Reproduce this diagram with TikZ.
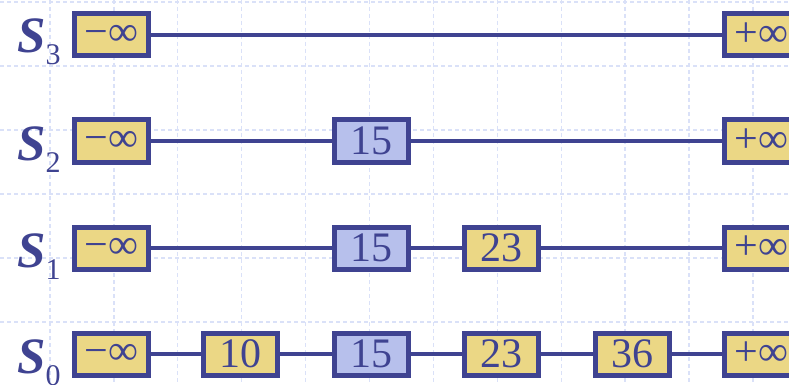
\documentclass[tikz,border=0pt]{standalone}
\usepackage{fontspec}
\setmainfont{Liberation Serif}
\definecolor{navy}{HTML}{3F4391}
\definecolor{ybox}{HTML}{EBD785}
\definecolor{bbox}{HTML}{B7C0EC}
\definecolor{gridc}{HTML}{DAE1F8}
\tikzset{
  keybox/.style={draw=navy, line width=5pt, minimum width=74pt, minimum height=42pt, inner sep=0pt, text=navy, font=\fontsize{42}{42}\selectfont},
  ykey/.style={keybox, fill=ybox},
  bkey/.style={keybox, fill=bbox},
  link/.style={draw=navy, line width=4.5pt},
  gridline/.style={draw=gridc, line width=1.3pt, dash pattern=on 4pt off 3pt},
  lvl/.style={anchor=base west, inner sep=0pt, text=navy}
}
\newcommand{\lvlname}[1]{{\fontsize{51}{51}\selectfont\bfseries\itshape S}\raisebox{-12pt}{\fontsize{30}{30}\selectfont #1}}
\begin{document}
\begin{tikzpicture}[x=1pt,y=-1pt]
\useasboundingbox (0,0) rectangle (789,385);
\clip (0,0) rectangle (789,385);
\fill[white] (0,0) rectangle (789,385);
% grid
\foreach \gx in {0,...,11} \draw[gridline] ({50+63.9*\gx},0) -- ({50+63.9*\gx},385);
\foreach \gy in {0,...,5} \draw[gridline] (0,{2+64*\gy}) -- (789,{2+64*\gy});
% level labels
\node[lvl] (L3) at (17,53) {\lvlname{3}};
\node[lvl] (L2) at (17,160) {\lvlname{2}};
\node[lvl] (L1) at (17,267) {\lvlname{1}};
\node[lvl] (L0) at (17,373) {\lvlname{0}};
% S3
\node[ykey] (a3) at (111.5,35) {−∞};
\node[ykey] (f3) at (761.5,35) {+∞};
% S2
\node[ykey] (a2) at (111.5,141) {−∞};
\node[bkey] (c2) at (371.5,141) {15};
\node[ykey] (f2) at (761.5,141) {+∞};
% S1
\node[ykey] (a1) at (111.5,248) {−∞};
\node[bkey] (c1) at (371.5,248) {15};
\node[ykey] (d1) at (501.5,248) {23};
\node[ykey] (f1) at (761.5,248) {+∞};
% S0
\node[ykey] (a0) at (111.5,354) {−∞};
\node[ykey] (b0) at (240.5,354) {10};
\node[bkey] (c0) at (371.5,354) {15};
\node[ykey] (d0) at (501.5,354) {23};
\node[ykey] (e0) at (632,354) {36};
\node[ykey] (f0) at (761.5,354) {+∞};
% links
\draw[link] (a3) -- (f3);
\draw[link] (a2) -- (c2);
\draw[link] (c2) -- (f2);
\draw[link] (a1) -- (c1);
\draw[link] (c1) -- (d1);
\draw[link] (d1) -- (f1);
\draw[link] (a0) -- (b0);
\draw[link] (b0) -- (c0);
\draw[link] (c0) -- (d0);
\draw[link] (d0) -- (e0);
\draw[link] (e0) -- (f0);
\end{tikzpicture}
\end{document}
